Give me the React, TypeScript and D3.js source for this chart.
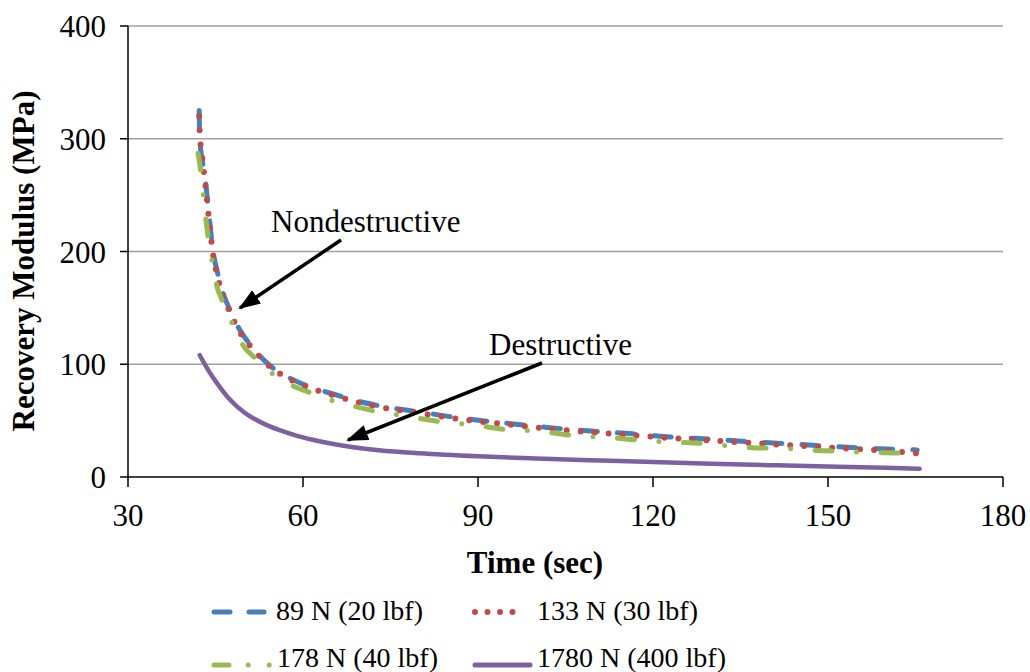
import React from "react";
import * as d3 from "d3";

const xTicks = [30, 60, 90, 120, 150, 180];
const yTicks = [0, 100, 200, 300, 400];

const s89: [number, number][] = [[42.2,325],[42.3,300],[42.7,282],[43.2,266],[43.9,232],[44.6,200],[45.4,180],[46.3,163],[47.5,148],[49,132],[51,117],[54.3,99],[58,87],[61.7,79],[64.6,74.5],[70,66.5],[73.2,63],[80,57.6],[87.4,52],[94.3,48],[101.8,44],[108.7,41],[116,38.5],[123,35.5],[130,33.5],[137.5,31],[144.7,29],[151.7,26.8],[159,25],[165.3,24]];
const s133: [number, number][] = [[42.2,320],[42.3,305],[42.7,285],[43.2,262],[43.9,228],[44.6,197],[45.4,177],[46.3,160],[47.5,146],[49,130],[51,116],[54.3,98],[58,86],[61.7,78],[64.6,73.5],[70,65.5],[73.2,62],[80,56.6],[87.4,51],[94.3,47],[101.8,43],[108.7,40],[116,37.3],[123,34.5],[130,32.3],[137.5,30],[144.7,27.8],[151.7,25.6],[159,23.5],[165.5,21]];
const s178: [number, number][] = [[42.0,287],[42.5,270],[43,245],[43.5,222],[44.4,192],[45.2,170],[46.1,157],[47.8,137],[49.7,117],[52.1,104],[55.2,90],[58.6,80],[61.7,74],[65.5,67],[69.4,62],[72.7,58],[76.6,55],[80.6,51.4],[83.8,49],[87.8,47],[91.7,44.3],[95,42],[99,41],[103,39],[106.6,36.6],[110.4,35.5],[114.7,34],[117.8,32.5],[125.5,30.5],[129.4,29.5],[133,27.5],[137,26],[140.6,25.5],[144.7,24.8],[148,23.5],[152,23],[156,22],[160,21.5],[163.5,21]];
const s1780: [number, number][] = [[42.3,108],[43.5,97],[44.6,88],[46,78],[47.5,68.5],[50,57],[53,48],[56,41.5],[59,36.5],[63,31.5],[67.5,27.3],[73,23.8],[80,21],[90,18.3],[100,16.4],[111,14.6],[120,13.2],[130,11.8],[140,10.5],[150,9.3],[160,8.1],[165.7,7.4]];

const seriesNames = ["89 N (20 lbf)", "133 N (30 lbf)", "178 N (40 lbf)", "1780 N (400 lbf)"];
const seriesColors = ["#4a7ebb", "#be4b48", "#98b954", "#7d60a0"];

const FONT = "'Liberation Serif', 'Times New Roman', serif";

export default function App() {
  const W = 1030, H = 672;
  const x = d3.scaleLinear().domain([30, 180]).range([128, 1003]);
  const y = d3.scaleLinear().domain([0, 400]).range([477, 26]);
  const line = d3.line<[number, number]>().x(d => x(d[0])).y(d => y(d[1])).curve(d3.curveMonotoneX);

  const series = [
    { data: s89, dash: "17,20", w: 5 },
    { data: s133, dash: "0,14", w: 6 },
    { data: s178, dash: "17,24.5,0,24.5", w: 5 },
    { data: s1780, dash: "", w: 4.5 },
  ];
  const legendDash = ["16,19", "0,12.5", "15,19.2,0,21,0,40", ""];
  const legendW = [5, 6, 5, 5];
  const legendPos = [
    { x1: 214, x2: 264, y: 612, ty: 620, tx: 276 },
    { x1: 475, x2: 525, y: 612, ty: 620, tx: 537 },
    { x1: 214, x2: 272, y: 665, ty: 667, tx: 277 },
    { x1: 475, x2: 530, y: 665, ty: 667, tx: 537 },
  ];

  return (
    <svg width={W} height={H} style={{ position: "absolute", left: 0, top: 0, background: "#fff" }} fontFamily={FONT}>
      <defs>
        <marker id="ah" markerUnits="userSpaceOnUse" markerWidth="24" markerHeight="18" refX="20" refY="8" orient="auto">
          <path d="M0,0 L22,8 L0,16 Z" fill="#000" />
        </marker>
      </defs>
      <rect width={W} height={H} fill="#fff" />
      {yTicks.filter(t => t > 0).map(t => (
        <line key={t} x1={x(30)} x2={x(180)} y1={y(t)} y2={y(t)} stroke="#a0a0a0" strokeWidth={1.5} />
      ))}
      <line x1={x(30)} x2={x(30)} y1={y(0)} y2={y(400)} stroke="#000" strokeWidth={1.5} />
      <line x1={x(30)} x2={x(180)} y1={y(0)} y2={y(0)} stroke="#000" strokeWidth={1.5} />
      {yTicks.map(t => (
        <g key={t}>
          <line x1={x(30) - 8} x2={x(30)} y1={y(t)} y2={y(t)} stroke="#000" strokeWidth={1.5} />
          <text x={106} y={y(t) + 11} fontSize={31} textAnchor="end" fill="#000">{t}</text>
        </g>
      ))}
      {xTicks.map(t => (
        <g key={t}>
          <line x1={x(t)} x2={x(t)} y1={y(0)} y2={y(0) + 10} stroke="#000" strokeWidth={1.5} />
          <text x={x(t)} y={526} fontSize={31} textAnchor="middle" fill="#000">{t}</text>
        </g>
      ))}
      <text x={535} y={573} fontSize={31} fontWeight="bold" textAnchor="middle" fill="#000">Time (sec)</text>
      <text transform="translate(34,261) rotate(-90)" fontSize={31} fontWeight="bold" textAnchor="middle" fill="#000">Recovery Modulus (MPa)</text>

      {series.map((s, i) => (
        <path key={i} d={line(s.data) || ""} fill="none" stroke={seriesColors[i]} strokeWidth={s.w}
          strokeDasharray={s.dash || undefined} strokeLinecap="round" strokeLinejoin="round" />
      ))}

      <text x={271} y={232} fontSize={31} fill="#000">Nondestructive</text>
      <line x1={341} y1={240} x2={240} y2={308} stroke="#000" strokeWidth={3.5} markerEnd="url(#ah)" />
      <text x={489} y={355} fontSize={31} fill="#000">Destructive</text>
      <line x1={542} y1={363} x2={348} y2={440} stroke="#000" strokeWidth={3.5} markerEnd="url(#ah)" />

      {seriesNames.map((n, i) => {
        const p = legendPos[i];
        return (
          <g key={n}>
            <line x1={p.x1} x2={p.x2} y1={p.y} y2={p.y} stroke={seriesColors[i]} strokeWidth={legendW[i]}
              strokeDasharray={legendDash[i] || undefined} strokeLinecap="round" />
            <text x={p.tx} y={p.ty} fontSize={28} fill="#000">{n}</text>
          </g>
        );
      })}
    </svg>
  );
}
